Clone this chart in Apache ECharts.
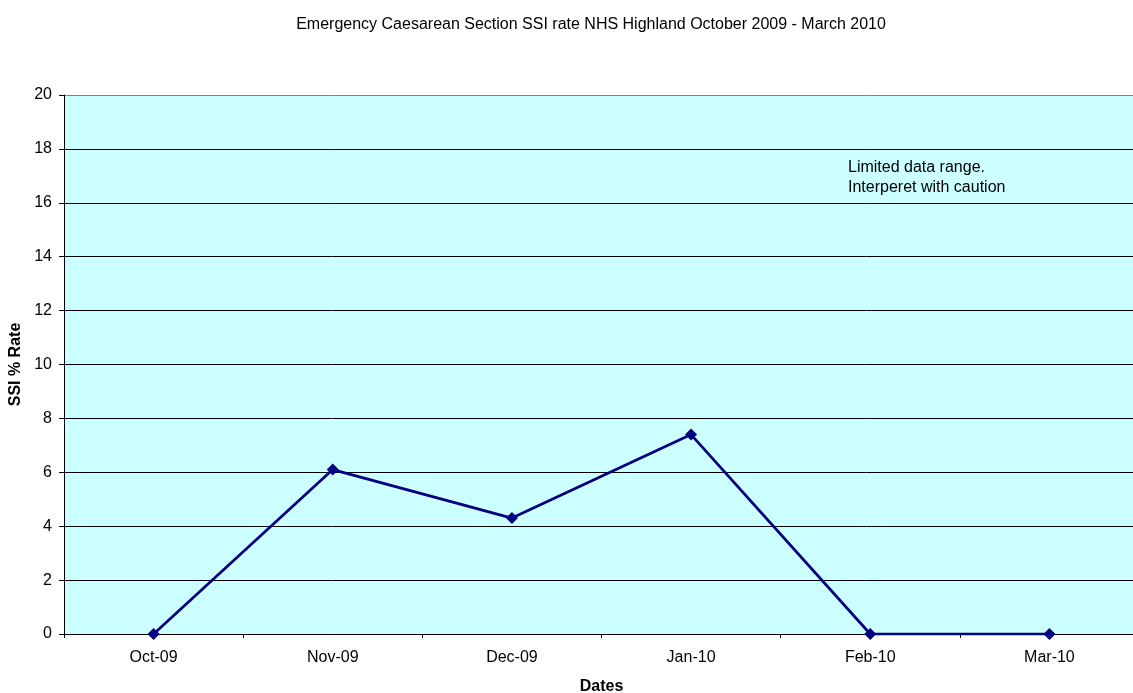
<!DOCTYPE html>
<html>
<head>
<meta charset="utf-8">
<script src="https://cdn.jsdelivr.net/npm/echarts@6/dist/echarts.min.js"></script>
<style>
  html, body { margin: 0; padding: 0; background: #fff; }
  #chart { width: 1133px; height: 693px; }
</style>
</head>
<body>
<div id="chart"></div>
<script>
// Monthly emergency caesarean section SSI rate (%)
const months = ['Oct-09', 'Nov-09', 'Dec-09', 'Jan-10', 'Feb-10', 'Mar-10'];
const ssiRate = [0, 6.1, 4.3, 7.4, 0, 0];
const yTicks = [0, 2, 4, 6, 8, 10, 12, 14, 16, 18, 20];

const FONT = '"Liberation Sans", Arial, sans-serif';

// gridline colours: inner lines black, top border grey
const splitColors = yTicks.map((v, i) => (i === yTicks.length - 1 ? '#808080' : '#000000'));

const chart = echarts.init(document.getElementById('chart'), null, { renderer: 'canvas' });

chart.setOption({
  animation: false,
  backgroundColor: '#ffffff',
  title: {
    text: 'Emergency Caesarean Section SSI rate NHS Highland October 2009 - March 2010',
    left: 586,
    textAlign: 'center',
    top: 12,
    textStyle: { fontFamily: FONT, fontSize: 16, fontWeight: 'normal', color: '#000' }
  },
  grid: {
    left: 64,
    top: 95,
    right: -6,
    bottom: 59,
    outerBoundsMode: 'none',
    containLabel: false,
    show: true,
    backgroundColor: '#CCFFFF',
    borderWidth: 0
  },
  xAxis: {
    type: 'category',
    data: months,
    boundaryGap: true,
    name: 'Dates',
    nameLocation: 'middle',
    nameGap: 45,
    nameTextStyle: { fontFamily: FONT, fontSize: 16, fontWeight: 'bold', color: '#000' },
    axisLine: { show: true, lineStyle: { color: '#000', width: 1 } },
    axisTick: { show: true, interval: 0, alignWithLabel: false, length: 4, lineStyle: { color: '#000' } },
    axisLabel: { fontFamily: FONT, fontSize: 16, color: '#000', margin: 16, interval: 0 },
    splitLine: { show: false }
  },
  yAxis: {
    type: 'value',
    min: 0,
    max: 20,
    interval: 2,
    name: 'SSI % Rate',
    nameLocation: 'middle',
    nameGap: 35,
    nameTextStyle: { fontFamily: FONT, fontSize: 16, fontWeight: 'bold', color: '#000' },
    axisLine: { show: true, lineStyle: { color: '#000', width: 1 } },
    axisTick: { show: true, length: 5, lineStyle: { color: '#000' } },
    axisLabel: { fontFamily: FONT, fontSize: 16, color: '#000', margin: 12 },
    splitLine: { show: true, lineStyle: { color: splitColors, width: 1 } }
  },
  graphic: [
    {
      type: 'text',
      left: 848,
      top: 158,
      style: {
        text: 'Limited data range.\nInterperet with caution',
        fontFamily: FONT,
        fontSize: 16,
        lineHeight: 20,
        fill: '#000'
      }
    }
  ],
  series: [
    {
      type: 'line',
      data: ssiRate,
      symbol: 'diamond',
      symbolSize: 12,
      lineStyle: { color: '#000080', width: 2.75 },
      itemStyle: { color: '#000080' },
      z: 5
    }
  ]
});
</script>
</body>
</html>
